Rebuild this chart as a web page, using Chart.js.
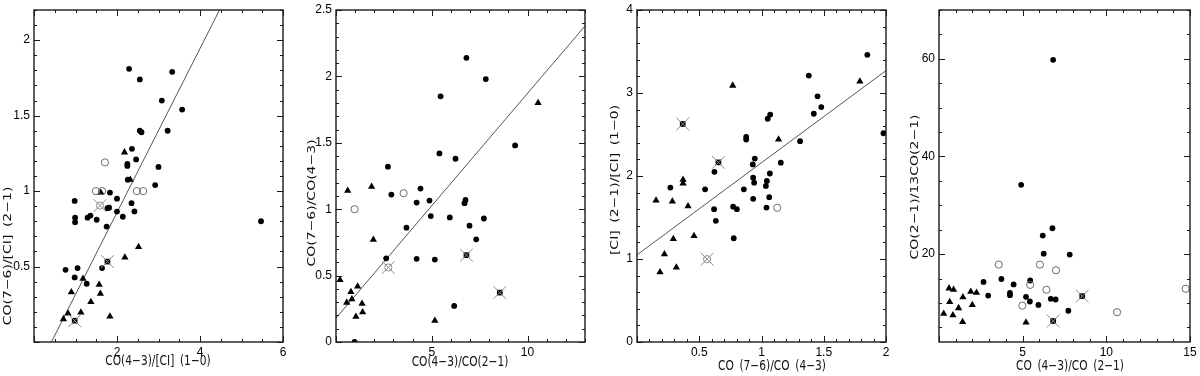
<!DOCTYPE html>
<html>
<head>
<meta charset="utf-8">
<script src="https://cdn.jsdelivr.net/npm/chart.js@4.4.1/dist/chart.umd.min.js"></script>
<style>
  body { margin: 0; background: #fff; }
  canvas { position: absolute; top: 0; }
</style>
</head>
<body>
<script>
// ---- data ----
// panel 1: CO(7-6)/[CI](2-1) vs CO(4-3)/[CI](1-0)
const p1Filled = [[2.29,1.81],[2.55,1.74],[3.33,1.79],[3.08,1.60],[3.57,1.54],[2.55,1.40],[2.59,1.39],[3.22,1.40],
  [2.36,1.28],[2.46,1.21],[2.25,1.18],[2.25,1.167],[3.00,1.16],[2.26,1.075],[2.92,1.04],[1.83,0.99],[2.00,0.95],
  [0.98,0.935],[2.35,0.92],[2.00,0.864],[2.42,0.865],[2.14,0.83],[1.81,0.89],[1.77,0.887],[0.99,0.824],[0.99,0.794],
  [1.29,0.824],[1.36,0.838],[1.51,0.81],[1.75,0.765],[5.47,0.80],[0.76,0.478],[1.05,0.49],[0.98,0.428],[1.64,0.49],[1.27,0.386]];
const p1Tri = [[2.18,1.257],[1.61,0.99],[2.32,1.075],[2.52,0.63],[2.19,0.56],[1.18,0.42],[0.90,0.33],[1.57,0.38],
  [1.60,0.32],[1.37,0.265],[0.82,0.19],[0.71,0.152],[1.13,0.196],[1.83,0.17]];
const p1Open = [[1.71,1.19],[1.49,1.00],[1.64,1.00],[2.48,1.00],[2.63,1.00]];
const p1CrossFilled = [[1.77,0.533],[0.98,0.141]];
const p1CrossOpen = [[1.59,0.904]];
const p1Fit = [[0.42,0],[4.47,2.2]];

// panel 2: CO(7-6)/CO(4-3) vs CO(4-3)/CO(2-1)
const p2Filled = [[6.81,2.14],[7.82,1.98],[5.46,1.85],[5.40,1.42],[6.24,1.38],[9.35,1.48],[2.71,1.32],[4.41,1.155],
  [2.89,1.11],[4.21,1.05],[4.88,1.065],[6.76,1.07],[6.71,1.045],[4.95,0.948],[5.94,0.938],[7.72,0.93],[6.97,0.876],
  [3.68,0.861],[7.32,0.773],[2.62,0.63],[4.21,0.626],[5.16,0.621],[6.17,0.272],[0.97,0.0]];
const p2Tri = [[0.61,1.14],[1.86,1.17],[1.95,0.77],[0.21,0.467],[0.78,0.377],[1.13,0.419],[0.83,0.322],[0.56,0.297],
  [1.36,0.289],[1.39,0.225],[1.04,0.19],[5.16,0.16],[10.55,1.80]];
const p2Open = [[0.97,1.0],[3.53,1.12]];
const p2CrossFilled = [[6.81,0.654],[8.55,0.372]];
const p2CrossOpen = [[2.73,0.561]];
const p2Fit = [[0,0.18],[13,2.38]];

// panel 3: [CI](2-1)/[CI](1-0) vs CO(7-6)/CO(4-3)
const p3Filled = [[1.85,3.46],[1.38,3.21],[1.45,2.96],[1.48,2.83],[1.42,2.75],[1.98,2.515],[1.31,2.42],[1.07,2.74],
  [1.05,2.69],[0.877,2.47],[0.877,2.44],[0.946,2.21],[1.155,2.16],[0.93,2.14],[1.067,2.03],[0.622,2.05],[0.933,1.98],
  [1.043,1.94],[0.941,1.92],[1.035,1.88],[0.268,1.86],[0.547,1.84],[0.858,1.84],[1.062,1.745],[0.933,1.725],
  [0.772,1.63],[0.802,1.60],[0.619,1.60],[1.04,1.62],[0.633,1.46],[0.777,1.25]];
const p3Tri = [[0.769,3.09],[1.79,3.14],[1.137,2.44],[0.37,1.956],[0.37,1.912],[0.153,1.705],[0.284,1.693],[0.41,1.637],
  [0.292,1.242],[0.458,1.277],[0.22,1.058],[0.316,0.898],[0.185,0.842]];
const p3Open = [[1.126,1.617]];
const p3CrossFilled = [[0.367,2.627],[0.654,2.164]];
const p3CrossOpen = [[0.563,0.998]];
const p3Fit = [[0,1.05],[2,3.27]];

// panel 4: CO(2-1)/13CO(2-1) vs CO(4-3)/CO(2-1)
const p4Filled = [[6.82,59.8],[4.91,34.2],[6.78,25.3],[6.20,23.8],[6.26,20.1],[7.81,19.9],[2.66,14.3],[3.73,14.9],
  [4.46,13.8],[5.45,14.6],[2.94,11.5],[4.24,12.05],[4.24,11.6],[5.20,11.25],[5.43,10.3],[5.94,9.6],[6.68,10.85],
  [6.97,10.7],[7.73,8.4]];
const p4Tri = [[0.28,7.8],[0.60,13.0],[0.87,12.7],[0.64,10.2],[0.83,7.5],[1.17,8.95],[1.43,11.2],[1.41,6.1],
  [1.90,12.3],[2.24,12.1],[1.99,9.6],[5.20,6.0]];
const p4Open = [[3.57,17.85],[6.03,17.85],[6.99,16.7],[5.45,13.7],[6.42,12.7],[4.98,9.45],[10.64,8.1],[14.74,12.9]];
const p4CrossFilled = [[8.56,11.4],[6.82,6.3]];
const p4CrossOpen = [];
const p4Fit = [];

// tick labels
const xTicks1 = [2, 4, 6],        yTicks1 = [0.5, 1, 1.5, 2];
const xTicks2 = [5, 10],          yTicks2 = [0, 0.5, 1, 1.5, 2, 2.5];
const xTicks3 = [0.5, 1, 1.5, 2], yTicks3 = [0, 1, 2, 3, 4];
const xTicks4 = [5, 10, 15],      yTicks4 = [20, 40, 60];

// ---- layout of the four panels (page pixels) ----
const panels = [
  { left: 0, width: 300, box: [34, 10, 283, 342], xr: [0, 6, 2, 0.5], yr: [0, 2.2, 0.5, 0.1],
    xTicks: xTicks1, yTicks: yTicks1, xTitle: 'CO(4−3)/[CI] (1−0)', yTitle: 'CO(7−6)/[CI] (2−1)',
    xTitleAt: [158, 361], yTitleAt: [8, 256],
    filled: p1Filled, tri: p1Tri, open: p1Open, crossFilled: p1CrossFilled, crossOpen: p1CrossOpen, fit: p1Fit },
  { left: 300, width: 300, box: [336, 8, 585, 342], xr: [0, 13, 5, 1], yr: [0, 2.5, 0.5, 0.1],
    xTicks: xTicks2, yTicks: yTicks2, xTitle: 'CO(4−3)/CO(2−1)', yTitle: 'CO(7−6)/CO(4−3)',
    xTitleAt: [460, 362], yTitleAt: [312, 203],
    filled: p2Filled, tri: p2Tri, open: p2Open, crossFilled: p2CrossFilled, crossOpen: p2CrossOpen, fit: p2Fit },
  { left: 600, width: 300, box: [637, 8, 886, 342], xr: [0, 2, 0.5, 0.1], yr: [0, 4, 1, 0.2],
    xTicks: xTicks3, yTicks: yTicks3, xTitle: 'CO (7−6)/CO (4−3)', yTitle: '[CI] (2−1)/[CI] (1−0)',
    xTitleAt: [772, 366], yTitleAt: [615, 180],
    filled: p3Filled, tri: p3Tri, open: p3Open, crossFilled: p3CrossFilled, crossOpen: p3CrossOpen, fit: p3Fit },
  { left: 900, width: 300, box: [939, 6, 1192, 342], xr: [0, 15, 5, 1], yr: [2, 70, 20, 5],
    xTicks: xTicks4, yTicks: yTicks4, xTitle: 'CO (4−3)/CO (2−1)', yTitle: 'CO(2−1)/13CO(2−1)',
    xTitleAt: [1070, 366], yTitleAt: [915, 187],
    filled: p4Filled, tri: p4Tri, open: p4Open, crossFilled: p4CrossFilled, crossOpen: p4CrossOpen, fit: p4Fit },
];

const toXY = pairs => pairs.map(([x, y]) => ({ x, y }));
const tickFont = { family: '"Liberation Sans", Arial, sans-serif', size: 12 };

// walks min..max in minor steps, flags the major ones
function eachTick(min, max, major, minor, cb) {
  for (let i = Math.ceil(min / minor - 1e-9); i * minor <= max + 1e-9; i++) {
    const v = i * minor;
    const isMajor = Math.abs(v / major - Math.round(v / major)) < 1e-6;
    cb(v, isMajor ? 6 : 3);
  }
}

panels.forEach(p => {
  const canvas = document.createElement('canvas');
  canvas.width = p.width;
  canvas.height = 376;
  canvas.style.left = p.left + 'px';
  document.body.appendChild(canvas);

  const [bl, bt, br, bb] = p.box;

  // PGPLOT-style box: frame plus inward ticks on all four sides, and the axis titles
  const framePlugin = {
    id: 'frame',
    afterDatasetsDraw(chart) {
      const { ctx, chartArea: a, scales: { x, y } } = chart;
      ctx.save();
      ctx.strokeStyle = '#1a1a1a';
      ctx.lineWidth = 1;
      ctx.beginPath();
      eachTick(p.xr[0], p.xr[1], p.xr[2], p.xr[3], (v, len) => {
        const px = Math.round(x.getPixelForValue(v)) + 0.5;
        ctx.moveTo(px, a.bottom); ctx.lineTo(px, a.bottom - len);
        ctx.moveTo(px, a.top); ctx.lineTo(px, a.top + len);
      });
      eachTick(p.yr[0], p.yr[1], p.yr[2], p.yr[3], (v, len) => {
        const py = Math.round(y.getPixelForValue(v)) + 0.5;
        ctx.moveTo(a.left, py); ctx.lineTo(a.left + len, py);
        ctx.moveTo(a.right, py); ctx.lineTo(a.right - len, py);
      });
      ctx.stroke();
      ctx.lineWidth = 1.4;
      ctx.strokeRect(a.left, a.top, a.right - a.left, a.bottom - a.top);

      // titles: the original figure is squeezed horizontally, so squeeze the glyphs too
      ctx.fillStyle = '#111';
      ctx.font = '14px "DejaVu Sans"';
      ctx.textAlign = 'center';
      ctx.textBaseline = 'middle';
      if ('wordSpacing' in ctx) ctx.wordSpacing = '3px';
      ctx.save();
      ctx.translate(p.xTitleAt[0] - p.left, p.xTitleAt[1]);
      ctx.scale(0.76, 1);
      ctx.fillText(p.xTitle, 0, 0);
      ctx.restore();
      ctx.save();
      ctx.translate(p.yTitleAt[0] - p.left, p.yTitleAt[1]);
      ctx.scale(0.76, 1);
      ctx.rotate(-Math.PI / 2);
      ctx.fillText(p.yTitle, 0, 0);
      ctx.restore();
      ctx.restore();
    }
  };

  const datasets = [
    { data: toXY(p.crossFilled), pointStyle: 'crossRot', pointRadius: 9, pointBorderColor: '#8c8c8c', pointBorderWidth: 1, order: 0 },
    { data: toXY(p.crossOpen), pointStyle: 'crossRot', pointRadius: 9, pointBorderColor: '#8c8c8c', pointBorderWidth: 1, order: 0 },
    { data: toXY(p.crossFilled), pointStyle: 'rect', pointRadius: 4, pointBackgroundColor: '#000', pointBorderColor: '#000', pointBorderWidth: 0, order: 1 },
    { data: toXY(p.crossOpen), pointStyle: 'circle', pointRadius: 3.6, pointBackgroundColor: 'rgba(0,0,0,0)', pointBorderColor: '#8c8c8c', pointBorderWidth: 1, order: 1 },
    { data: toXY(p.open), pointStyle: 'circle', pointRadius: 3.6, pointBackgroundColor: 'rgba(0,0,0,0)', pointBorderColor: '#6a6a6a', pointBorderWidth: 1, order: 2 },
    { data: toXY(p.filled), pointStyle: 'circle', pointRadius: 2.9, pointBackgroundColor: '#000', pointBorderColor: '#000', pointBorderWidth: 0, order: 2 },
    { data: toXY(p.tri), pointStyle: 'triangle', pointRadius: 4.2, pointBackgroundColor: '#000', pointBorderColor: '#000', pointBorderWidth: 0, order: 2 },
    { data: toXY(p.fit), showLine: true, borderColor: '#555', borderWidth: 1, pointRadius: 0, order: 3 },
  ];

  new Chart(canvas, {
    type: 'scatter',
    data: { datasets },
    options: {
      responsive: false,
      animation: false,
      events: [],
      layout: { padding: { left: 0, bottom: 0, top: bt, right: (p.left + p.width) - br } },
      plugins: { legend: { display: false }, tooltip: { enabled: false } },
      scales: {
        x: {
          type: 'linear', min: p.xr[0], max: p.xr[1],
          grid: { display: false, drawTicks: false },
          border: { display: false },
          afterBuildTicks: s => { s.ticks = p.xTicks.map(v => ({ value: v })); },
          afterFit: s => { s.height = 376 - bb; s.paddingLeft = 0; s.paddingRight = 0; },
          ticks: { font: tickFont, color: '#000', padding: 3, maxRotation: 0, autoSkip: false, callback: v => String(v) }
        },
        y: {
          type: 'linear', min: p.yr[0], max: p.yr[1],
          grid: { display: false, drawTicks: false },
          border: { display: false },
          afterBuildTicks: s => { s.ticks = p.yTicks.map(v => ({ value: v })); },
          afterFit: s => { s.width = bl - p.left; s.paddingTop = 0; s.paddingBottom = 0; },
          ticks: { font: tickFont, color: '#000', padding: 4, autoSkip: false, callback: v => String(v) }
        }
      }
    },
    plugins: [framePlugin]
  });
});
</script>
</body>
</html>
